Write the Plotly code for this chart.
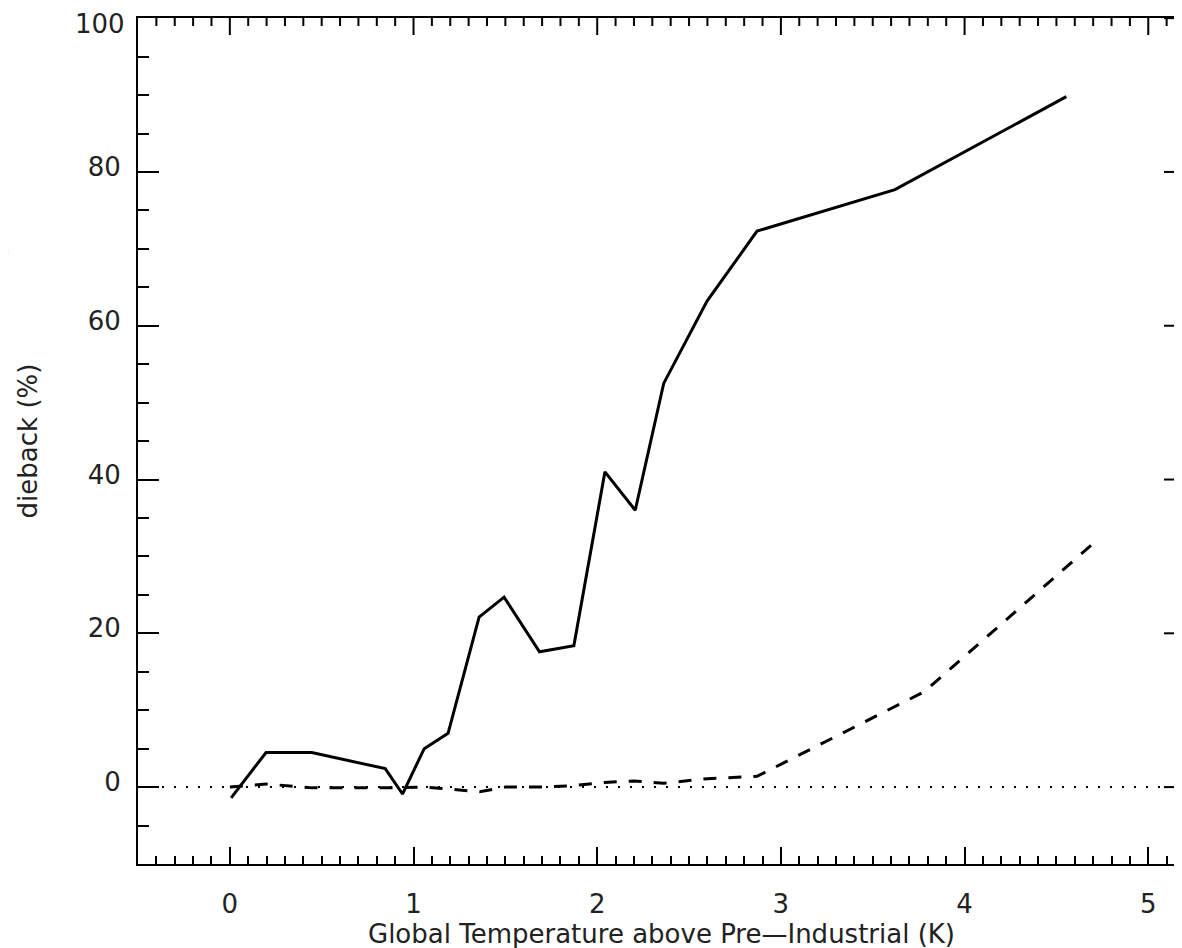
import numpy as np
import plotly.graph_objects as go

# Solid series: dieback (%) vs global temperature above pre-industrial (K)
solid_temp = [0.007, 0.197, 0.446, 0.846, 0.94, 1.058, 1.188, 1.357, 1.493, 1.686,
              1.873, 2.042, 2.207, 2.362, 2.598, 2.870, 3.621, 4.554]
solid_dieback = [-1.4, 4.5, 4.5, 2.4, -0.9, 5.0, 7.0, 22.1, 24.7, 17.6,
                 18.4, 41.0, 36.0, 52.5, 63.2, 72.3, 77.7, 89.8]

# Dashed series
dashed_temp = [0.0, 0.2, 0.45, 0.85, 1.06, 1.2, 1.36, 1.5, 1.7, 1.87, 2.04, 2.2,
               2.36, 2.6, 2.87, 3.78, 4.71]
dashed_dieback = [0.0, 0.4, -0.1, -0.1, 0.0, -0.3, -0.6, 0.0, 0.0, 0.2, 0.6, 0.8,
                  0.5, 1.1, 1.4, 12.4, 31.9]

x_ticks = [0, 1, 2, 3, 4, 5]
y_ticks = [0, 20, 40, 60, 80, 100]
x_range = [-0.5, 5.2]
y_range = [-10, 100.02]

FONT = "DejaVu Sans"
TXT = "#222222"

W, H = 1182, 948
M = dict(l=130, r=5, t=10, b=92)
plot_w = W - M["l"] - M["r"]
plot_h = H - M["t"] - M["b"]

fig = go.Figure()
fig.add_hline(y=0, line=dict(color="black", width=2, dash="2px,10px"), layer="below")
fig.add_trace(go.Scatter(x=dashed_temp, y=dashed_dieback, mode="lines",
                         line=dict(color="black", width=3, dash="13px,12px"),
                         showlegend=False))
fig.add_trace(go.Scatter(x=solid_temp, y=solid_dieback, mode="lines",
                         line=dict(color="black", width=3),
                         showlegend=False))

base = dict(showgrid=False, zeroline=False, showline=True, linecolor="black",
            linewidth=2, mirror=True, ticks="inside", tickcolor="black", tickwidth=2,
            tickfont=dict(family=FONT, size=26, color=TXT), ticklabeloverflow="allow")

y_ticktext = [str(v) if v != y_ticks[-1] else "" for v in y_ticks]

fig.update_layout(
    xaxis=dict(range=x_range, tickvals=x_ticks, ticklen=17,
               minor=dict(dtick=0.1, tick0=0, ticks="inside", ticklen=8,
                          tickwidth=2, tickcolor="black"),
               ticklabelstandoff=16,
               title=dict(text="Global Temperature above Pre\u2014Industrial (K)",
                          font=dict(family=FONT, size=26, color=TXT), standoff=2),
               **base),
    yaxis=dict(range=y_range, tickvals=y_ticks, ticktext=y_ticktext, ticklen=21,
               minor=dict(dtick=5, tick0=0, ticks="inside", ticklen=11,
                          tickwidth=2, tickcolor="black"),
               ticklabelstandoff=10, ticklabelshift=-5,
               title=dict(text="dieback (%)",
                          font=dict(family=FONT, size=26, color=TXT), standoff=43),
               **base),
)

# tick marks on the top and right frame edges, positioned by the axes' own scales
tick_line = dict(color="black", width=2)
x_minor_vals = [float(v) for v in np.round(np.arange(-0.4, 5.2, 0.1), 2)
                if float(v) not in x_ticks]
y_minor_vals = [int(v) for v in np.arange(-5, 100, 5) if int(v) not in y_ticks]
for vals, length in ((x_ticks, 17), (x_minor_vals, 8)):
    for v in vals:
        fig.add_shape(type="line", xref="x", yref="paper", x0=v, x1=v,
                      y0=1, y1=1 - length / plot_h, line=tick_line, layer="above")
for vals, length in ((y_ticks, 21), (y_minor_vals, 11)):
    for v in vals:
        fig.add_shape(type="line", xref="paper", yref="y", x0=1, x1=1 - length / plot_w,
                      y0=v, y1=v, line=tick_line, layer="above")

# top label "100" is nudged down inside the figure, as in the original
fig.add_annotation(text=str(y_ticks[-1]), xref="paper", yref="y", x=0, y=y_ticks[-1],
                   xanchor="right", yanchor="middle", xshift=-11, yshift=-6,
                   showarrow=False, font=dict(family=FONT, size=26, color=TXT))

fig.add_annotation(text=")", xref="paper", yref="paper", x=-0.12, y=0.726,
                   xanchor="right", yanchor="middle", showarrow=False,
                   font=dict(family=FONT, size=32, color="black"))

fig.update_layout(width=W, height=H, plot_bgcolor="white", paper_bgcolor="white",
                  margin=dict(**M, autoexpand=False))

fig.write_html("out.html")
